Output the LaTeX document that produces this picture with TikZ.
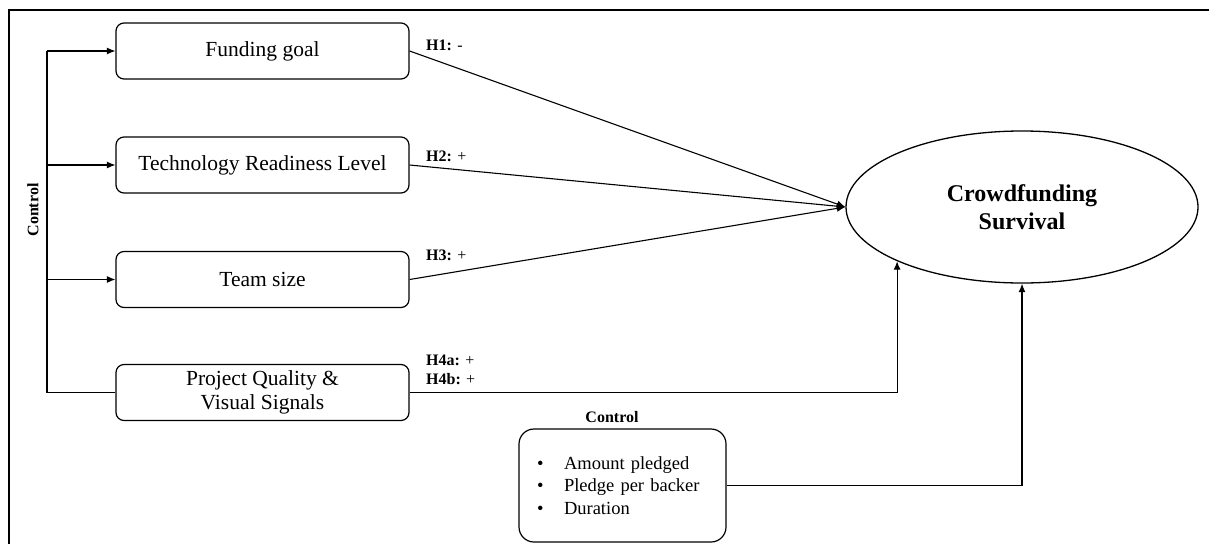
\documentclass[tikz,border=0pt]{standalone}
\usepackage{fontspec}
\setmainfont{Liberation Serif}
\usetikzlibrary{shapes.geometric,arrows.meta}
\begin{document}
\begin{tikzpicture}[x=1pt,y=-1pt,
  stepbox/.style={draw, rounded corners=8pt, minimum width=293pt, minimum height=56pt,
    line width=1.2pt, align=center, font=\fontsize{21.5}{24}\selectfont, inner sep=0pt},
  conn/.style={line width=1.1pt, -{Latex[length=8.5pt,width=7pt]}},
  plainline/.style={line width=1.1pt},
  hlab/.style={anchor=west, font=\fontsize{16}{18}\selectfont, inner sep=0pt},
  boldlab/.style={font=\bfseries\fontsize{16}{18}\selectfont, inner sep=0pt},
]
\useasboundingbox (0,0) rectangle (1209,544);
\draw[line width=2pt] (9,544) -- (9,10) -- (1209,10);

\node[stepbox] (fg)  at (262.5,51)    {Funding goal};
\node[stepbox] (trl) at (262.5,165)   {Technology Readiness Level};
\node[stepbox] (ts)  at (262.5,279.5) {Team size};
\node[stepbox] (pq)  at (262.5,392.5) {Project Quality \&\\Visual Signals};

\node[draw, ellipse, minimum width=352pt, minimum height=152pt, line width=1.3pt,
  inner sep=0pt, font=\bfseries\fontsize{24}{28}\selectfont, align=center]
  (cs) at (1022,207) {Crowdfunding\\Survival};

\node[draw, rounded corners=15pt, minimum width=207pt, minimum height=113pt,
  line width=1.2pt, font=\fontsize{18.5}{22.5}\selectfont, text width=171pt,
  align=left, inner xsep=18pt, inner ysep=0pt] (ctl) at (622.5,485.5)
  {\makebox[27pt][l]{\textbullet}Amount pledged\\
   \makebox[27pt][l]{\textbullet}Pledge per backer\\
   \makebox[27pt][l]{\textbullet}Duration};

\node[boldlab] (ctllab) at (612,417) {Control};
\node[boldlab, rotate=90] (vlab) at (33,210) {Control};

\coordinate (c1) at (47,51);
\coordinate (c2) at (47,165);
\coordinate (c3) at (47,279.5);
\coordinate (c4) at (47,392.5);
\draw[plainline] (c1) -- (c4);
\draw[conn] (c1) -- (fg.west);
\draw[conn] (c2) -- (trl.west);
\draw[conn] (c3) -- (ts.west);
\draw[plainline] (c4) -- (pq.west);

\draw[conn] (fg.east) -- (cs.west);
\draw[conn] (trl.east) -- (cs.west);
\draw[conn] (ts.east) -- (cs.west);
\draw[conn] (pq.east) -| (cs.south west);
\draw[conn] (ctl.east) -| (cs.south);

\node[hlab] (h1) at (426,45)  {\textbf{H1:} -};
\node[hlab] (h2) at (426,156) {\textbf{H2:} +};
\node[hlab] (h3) at (426,255) {\textbf{H3:} +};
\node[hlab] (h4a) at (426,360) {\textbf{H4a:} +};
\node[hlab] (h4b) at (426,379) {\textbf{H4b:} +};
\end{tikzpicture}
\end{document}
